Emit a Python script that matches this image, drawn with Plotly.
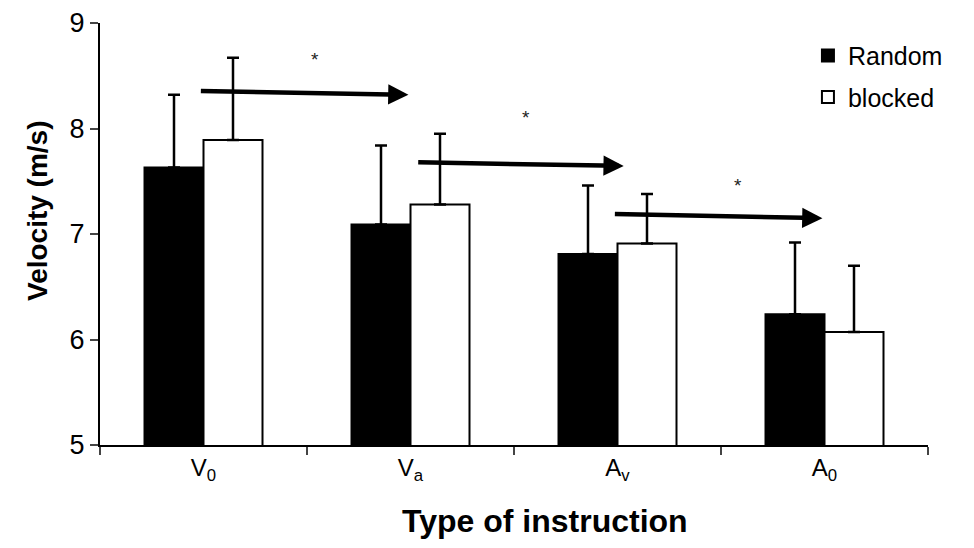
import plotly.graph_objects as go

categories = ["V<sub>0</sub>", "V<sub>a</sub>", "A<sub>v</sub>", "A<sub>0</sub>"]
random_vals = [7.63, 7.09, 6.81, 6.24]
random_err = [0.69, 0.75, 0.65, 0.68]
blocked_vals = [7.89, 7.28, 6.91, 6.07]
blocked_err = [0.78, 0.67, 0.47, 0.63]

fig = go.Figure()
fig.add_trace(go.Bar(
    x=categories, y=random_vals, name="Random", legendgroup="r",
    marker=dict(color="black", line=dict(color="black", width=2)),
    error_y=dict(type="data", symmetric=False, array=random_err,
                 arrayminus=[0] * 4, color="black", thickness=2.5, width=6),
))
fig.add_trace(go.Bar(
    x=categories, y=blocked_vals, name="blocked", legendgroup="b",
    marker=dict(color="white", line=dict(color="black", width=2)),
    error_y=dict(type="data", symmetric=False, array=blocked_err,
                 arrayminus=[0] * 4, color="black", thickness=2.5, width=6),
))

# significance arrows between neighbouring instruction types
arrows = [(-0.02, 8.355, 0.99, 8.32), (1.03, 7.68, 2.03, 7.645), (1.98, 7.19, 2.99, 7.15)]
for x0, y0, x1, y1 in arrows:
    fig.add_annotation(x=x1, y=y1, ax=x0, ay=y0, xref="x", yref="y",
                       axref="x", ayref="y", text="", showarrow=True,
                       arrowhead=2, arrowsize=0.9, arrowwidth=4.5, arrowcolor="black")
stars = [(0.54, 8.65), (1.56, 8.10), (2.58, 7.46)]
for sx, sy in stars:
    fig.add_annotation(x=sx, y=sy, text="*", showarrow=False,
                       font=dict(size=19, color="#222"))

# axis titles placed as in the original (slightly off-centre)
fig.add_annotation(text="<b>Type of instruction</b>", xref="paper", yref="paper",
                   x=0.537, y=0, yshift=-76, yanchor="middle", showarrow=False,
                   font=dict(size=32))
fig.add_annotation(text="<b>Velocity (m/s)</b>", xref="paper", yref="paper",
                   x=0, xshift=-63, y=0.5545, textangle=-90, showarrow=False,
                   xanchor="center", yanchor="middle", font=dict(size=28))

fig.update_layout(
    width=974, height=548,
    margin=dict(l=92, r=54, t=15, b=111),
    plot_bgcolor="white", paper_bgcolor="white",
    barmode="group", bargap=0.43, bargroupgap=0,
    font=dict(family="Liberation Sans, Arial, sans-serif", color="black"),
    legend=dict(x=0.855, y=0.977, xanchor="left", yanchor="top",
                font=dict(size=25), bgcolor="rgba(0,0,0,0)",
                itemwidth=30, tracegroupgap=6),
    showlegend=True,
)
fig.update_xaxes(
    tickson="boundaries", ticks="outside", ticklen=8, tickwidth=2,
    showline=True, linecolor="black", linewidth=2, showgrid=False,
    tickfont=dict(size=24), range=[-0.5, 3.5], automargin=False,
)
fig.update_yaxes(
    range=[5, 9], dtick=1, ticks="outside", ticklen=8, tickwidth=2,
    showline=True, linecolor="black", linewidth=2, showgrid=False,
    zeroline=False, tickfont=dict(size=27), automargin=False,
)

fig.write_html("out.html")
